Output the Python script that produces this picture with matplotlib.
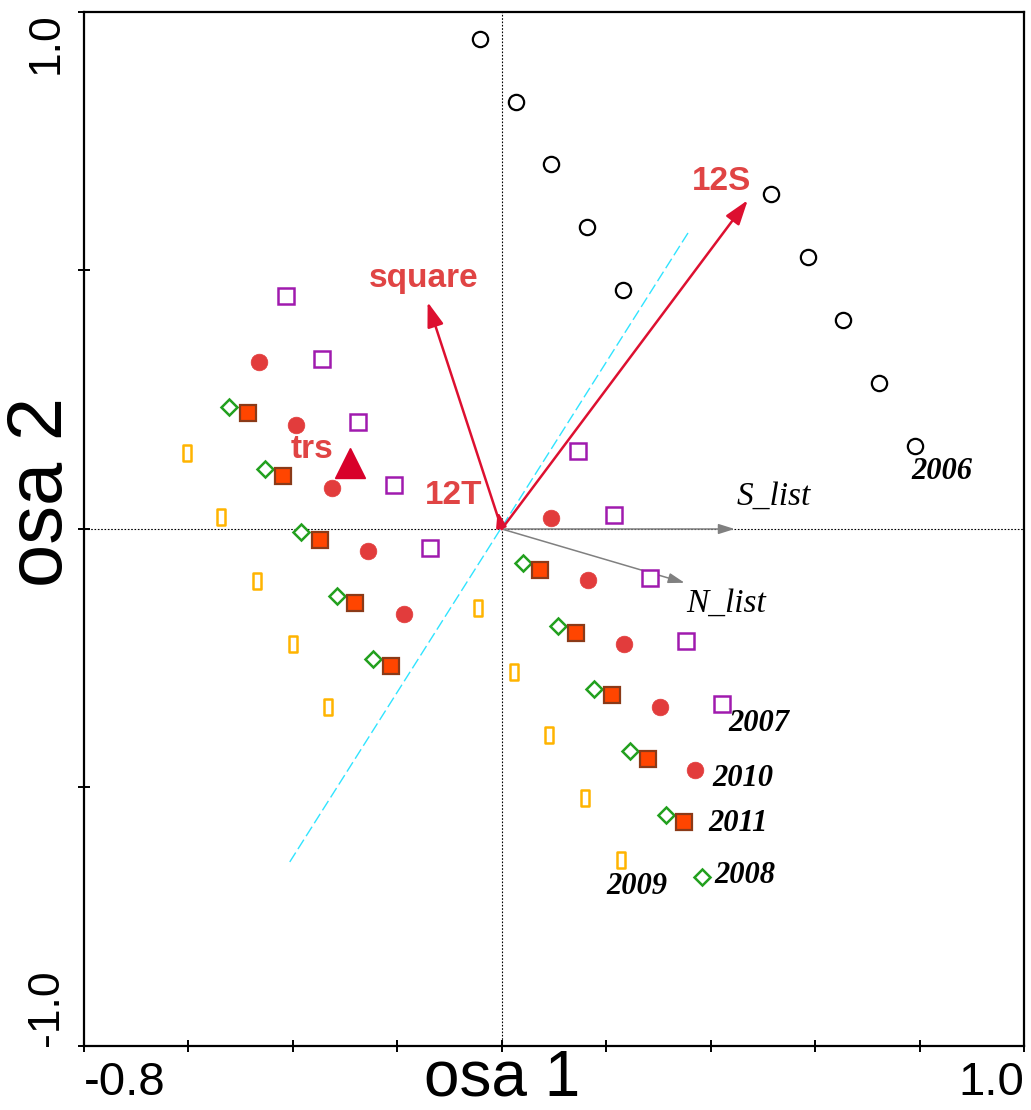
"""
ordination biplot: osa 1 vs osa 2, yearly site scores with species arrows
"""
import numpy as np
import matplotlib
matplotlib.use("Agg")
import matplotlib.pyplot as plt
from matplotlib.path import Path

# site scores per year
x2006 = [-0.042, 0.027, 0.094, 0.163, 0.232, 0.515, 0.586, 0.653, 0.722, 0.791]
y2006 = [0.948, 0.826, 0.706, 0.584, 0.462, 0.648, 0.526, 0.404, 0.282, 0.161]

x2007 = [-0.414, -0.345, -0.276, -0.207, -0.138, 0.146, 0.214, 0.283, 0.352, 0.421]
y2007 = [0.451, 0.329, 0.207, 0.085, -0.037, 0.151, 0.027, -0.095, -0.217, -0.338]

x2010 = [-0.465, -0.394, -0.326, -0.257, -0.188, 0.094, 0.165, 0.234, 0.303, 0.370]
y2010 = [0.323, 0.201, 0.079, -0.043, -0.164, 0.021, -0.099, -0.222, -0.344, -0.466]

x2011 = [-0.486, -0.418, -0.349, -0.282, -0.213, 0.073, 0.142, 0.211, 0.280, 0.349]
y2011 = [0.224, 0.103, -0.021, -0.143, -0.265, -0.079, -0.201, -0.321, -0.445, -0.567]

x2008 = [-0.522, -0.453, -0.384, -0.315, -0.246, 0.040, 0.107, 0.176, 0.245, 0.314, 0.383]
y2008 = [0.236, 0.116, -0.006, -0.130, -0.251, -0.066, -0.188, -0.310, -0.430, -0.553, -0.674]

x2009 = [-0.602, -0.538, -0.469, -0.400, -0.332, -0.046, 0.023, 0.090, 0.159, 0.228]
y2009 = [0.147, 0.023, -0.101, -0.222, -0.344, -0.153, -0.277, -0.399, -0.520, -0.641]

# year labels and where they sit
year_names = ["2006", "2007", "2010", "2011", "2008", "2009"]
year_lab_x = [0.785, 0.433, 0.404, 0.395, 0.408, 0.201]
year_lab_y = [0.112, -0.377, -0.482, -0.569, -0.671, -0.692]

# explanatory variables (red) and species (grey)
env_names = ["square", "12S", "12T"]
env_x = [-0.142, 0.471, -0.008]
env_y = [0.439, 0.636, 0.034]
env_lab_x = [-0.149, 0.420, -0.092]
env_lab_y = [0.484, 0.673, 0.064]

trs_x, trs_y = -0.291, 0.128
trs_lab = (-0.364, 0.153)

spec_names = ["S_list", "N_list"]
spec_x = [0.446, 0.350]
spec_y = [0.0, -0.104]
spec_lab_x = [0.450, 0.354]
spec_lab_y = [0.062, -0.145]

# dashed cyan line end points
cyan_x = [-0.406, 0.360]
cyan_y = [-0.644, 0.578]

xticks = [-0.8, -0.6, -0.4, -0.2, 0.0, 0.2, 0.4, 0.6, 0.8, 1.0]
xticklabels = ["-0.8", "", "", "", "", "", "", "", "", "1.0"]
yticks = [-1.0, -0.5, 0.0, 0.5, 1.0]
yticklabels = ["-1.0", "", "", "", "1.0"]

sans = ["Liberation Sans", "DejaVu Sans"]
serif = ["Liberation Serif", "DejaVu Serif"]

RED_TXT = "#e04444"
RED_ARR = "#dd1030"

fig = plt.figure(figsize=(10.31, 11.10), dpi=100)
ax = fig.add_axes([0.08147, 0.05766, 0.91174, 0.93153])
ax.set_xlim(-0.8, 1.0)
ax.set_ylim(-1.0, 1.0)

# axes through the origin
ax.axhline(0, color="black", lw=0.8, ls=(0, (1.5, 1.5)), zorder=1)
ax.axvline(0, color="black", lw=0.8, ls=(0, (1.5, 1.5)), zorder=1)

ax.plot(cyan_x, cyan_y, color="#30e4ff", lw=1.0, ls=(0, (8, 3)), zorder=1)

# narrow upright rectangle marker for 2009
rect = Path([(-0.28, -0.5), (0.28, -0.5), (0.28, 0.5), (-0.28, 0.5), (-0.28, -0.5)],
            [Path.MOVETO, Path.LINETO, Path.LINETO, Path.LINETO, Path.CLOSEPOLY])

ax.plot(x2009, y2009, ls="none", marker=rect, ms=11, mfc="white", mec="#ffb400", mew=1.8, zorder=3)
ax.plot(x2008, y2008, ls="none", marker="D", ms=8.5, mfc="white", mec="#22a01e", mew=1.8, zorder=3)
ax.plot(x2011, y2011, ls="none", marker="s", ms=11, mfc="#ff4500", mec="#8a3a18", mew=1.6, zorder=3)
ax.plot(x2010, y2010, ls="none", marker="o", ms=12, mfc="#e23c3c", mec="#e23c3c", mew=0.5, zorder=3)
ax.plot(x2007, y2007, ls="none", marker="s", ms=11, mfc="white", mec="#a01aae", mew=1.8, zorder=3)
ax.plot(x2006, y2006, ls="none", marker="o", ms=11, mfc="white", mec="black", mew=1.6, zorder=3)

# red arrows (12T is very short, so it gets a smaller head)
for ex, ey in zip(env_x, env_y):
    ms = 20 if np.hypot(ex, ey) > 0.1 else 12
    ax.annotate("", xy=(ex, ey), xytext=(0, 0),
                arrowprops=dict(arrowstyle="-|>,head_length=0.75,head_width=0.25",
                                mutation_scale=ms, lw=1.8, color=RED_ARR,
                                shrinkA=0, shrinkB=0), zorder=4)
for name, lx, ly in zip(env_names, env_lab_x, env_lab_y):
    ax.text(lx, ly, name, color=RED_TXT, fontsize=24, fontweight="bold",
            family=sans, ha="center", va="center", zorder=5)

ax.plot([trs_x], [trs_y], ls="none", marker="^", ms=22, mfc="#d8002a", mec="#d8002a", zorder=4)
ax.text(trs_lab[0], trs_lab[1], "trs", color=RED_TXT, fontsize=24, fontweight="bold",
        family=sans, ha="center", va="center", zorder=5)

# grey species arrows
for sx, sy in zip(spec_x, spec_y):
    ax.annotate("", xy=(sx, sy), xytext=(0, 0),
                arrowprops=dict(arrowstyle="-|>,head_length=0.7,head_width=0.22",
                                mutation_scale=14, lw=1.1, color="#808080",
                                shrinkA=0, shrinkB=0), zorder=2)
for name, lx, ly in zip(spec_names, spec_lab_x, spec_lab_y):
    ax.text(lx, ly, name, fontsize=24, style="italic", family=serif,
            ha="left", va="center", zorder=5)

for name, lx, ly in zip(year_names, year_lab_x, year_lab_y):
    ax.text(lx, ly, name, fontsize=22, style="italic", fontweight="bold",
            family=serif, ha="left", va="center", zorder=5)

# frame and ticks
for sp in ax.spines.values():
    sp.set_linewidth(1.6)
ax.set_xticks(xticks)
ax.set_xticklabels(xticklabels, family=sans, fontsize=34)
ax.set_yticks(yticks)
ax.set_yticklabels(yticklabels, family=sans, fontsize=32, rotation=90)
ax.tick_params(axis="both", direction="inout", length=9, width=1.4)
ax.tick_params(axis="x", pad=6)
ax.tick_params(axis="y", pad=8)

xt = ax.get_xticklabels()
xt[0].set_ha("left")
xt[-1].set_ha("right")
yt = ax.get_yticklabels()
yt[0].set_va("bottom")
yt[-1].set_va("top")

ax.set_xlabel("osa 1", family=sans, fontsize=46)
ax.xaxis.set_label_coords(0.4447, -0.002)
ax.set_ylabel("osa 2", family=sans, fontsize=56)
ax.yaxis.set_label_coords(-0.006, 0.536)

fig.savefig("out.png", dpi=100)
